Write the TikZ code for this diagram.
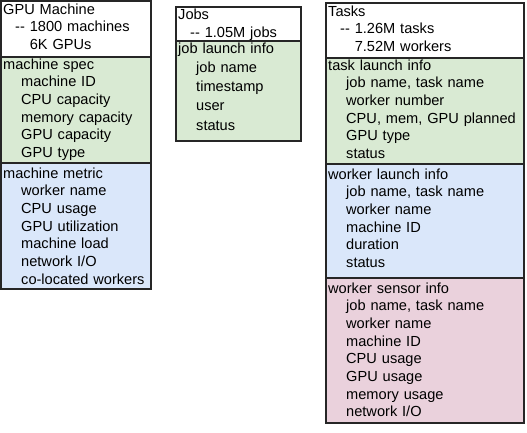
\documentclass[tikz,border=0pt]{standalone}
\usepackage{fontspec}
\setmainfont{Liberation Sans}
\definecolor{specgreen}{HTML}{D9EAD3}
\definecolor{metricblue}{HTML}{DAE7FA}
\definecolor{sensorpink}{HTML}{EAD1DC}
\newcommand{\itemind}{\hspace*{18pt}}
\newcommand{\dashind}{\hspace*{12pt}}

\begin{document}
\begin{tikzpicture}[x=1pt, y=-1pt,
  sect/.style={draw=black!85, line width=1.1pt, anchor=north west, inner sep=0pt, outer sep=0pt},
  txt/.style={anchor=base west, inner sep=0pt, align=left, text width=#1,
    font=\fontsize{14.6}{17.7}\selectfont, xshift=2pt}]
\useasboundingbox (0,0) rectangle (527,432);

% GPU machines
\node [sect, minimum width=150pt, minimum height=56pt] (M0) at (1,1) {};
\node [sect, fill=specgreen, minimum width=150pt, minimum height=106pt] (M1) at (M0.south west) {};
\node [sect, fill=metricblue, minimum width=150pt, minimum height=126pt] (M2) at (M1.south west) {};
\node [txt=146pt, yshift=-13pt] (M0t) at (M0.north west) {GPU Machine\\ \dashind-{}- 1800 machines\\ \dashind\phantom{-{}- }6K GPUs};
\node [txt=146pt, yshift=-12pt] (M1t) at (M1.north west) {machine spec\\ \itemind machine ID\\ \itemind CPU capacity\\
  \itemind memory capacity\\ \itemind GPU capacity\\ \itemind GPU type};
\node [txt=146pt, yshift=-15pt] (M2t) at (M2.north west) {machine metric\\ \itemind worker name\\ \itemind CPU usage\\
  \itemind GPU utilization\\ \itemind machine load\\ \itemind network I/O\\ \itemind co-located workers};

% jobs
\node [sect, minimum width=125pt, minimum height=34pt] (J0) at (176,7) {};
\node [sect, fill=specgreen, minimum width=125pt, minimum height=100pt] (J1) at (J0.south west) {};
\node [txt=121pt, yshift=-12.5pt] (J0t) at (J0.north west) {Jobs\\ \dashind-{}- 1.05M jobs};
\node [txt=121pt, yshift=-12pt, font=\fontsize{14.6}{19.3}\selectfont] (J1t) at (J1.north west) {job launch info\\
  \itemind job name\\ \itemind timestamp\\ \itemind user\\ \itemind status};

% tasks
\node [sect, minimum width=198pt, minimum height=55pt] (T0) at (326,3) {};
\node [sect, fill=specgreen, minimum width=198pt, minimum height=106pt] (T1) at (T0.south west) {};
\node [sect, fill=metricblue, minimum width=198pt, minimum height=114pt] (T2) at (T1.south west) {};
\node [sect, fill=sensorpink, minimum width=198pt, minimum height=145pt] (T3) at (T2.south west) {};
\node [txt=194pt, yshift=-13pt] (T0t) at (T0.north west) {Tasks\\ \dashind-{}- 1.26M tasks\\ \dashind\phantom{-{}- }7.52M workers};
\node [txt=194pt, yshift=-12pt] (T1t) at (T1.north west) {task launch info\\ \itemind job name, task name\\ \itemind worker number\\
  \itemind CPU, mem, GPU planned\\ \itemind GPU type\\ \itemind status};
\node [txt=194pt, yshift=-15pt] (T2t) at (T2.north west) {worker launch info\\ \itemind job name, task name\\ \itemind worker name\\
  \itemind machine ID\\ \itemind duration\\ \itemind status};
\node [txt=194pt, yshift=-15pt] (T3t) at (T3.north west) {worker sensor info\\ \itemind job name, task name\\ \itemind worker name\\
  \itemind machine ID\\ \itemind CPU usage\\ \itemind GPU usage\\ \itemind memory usage\\ \itemind network I/O};
\end{tikzpicture}
\end{document}
